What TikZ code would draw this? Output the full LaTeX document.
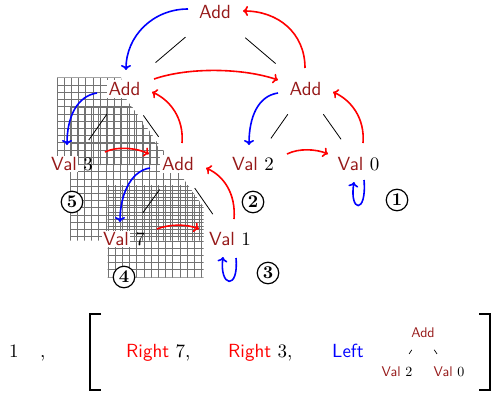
\documentclass[tikz,border=0pt]{standalone}
\usepackage{fontspec}
% the 10pt designs, scaled up, for every size
\setmainfont{lmroman10-regular.otf}[BoldFont=lmroman10-bold.otf]
\setsansfont{lmsans10-regular.otf}[BoldFont=lmsans10-bold.otf]
\usetikzlibrary{calc,arrows.meta}
\definecolor{vred}{RGB}{150,25,25}
\setlength{\fboxsep}{1.5pt}
% constructor name on a white patch, then its argument
\newcommand\valnode[1]{\kern-1.5pt\colorbox{white}{\textcolor{vred}{Val}}\kern-1.5pt\ {\rmfamily #1}}
\newcommand\valsmall[1]{\textcolor{vred}{Val}\ {\rmfamily #1}}
\tikzset{
  big/.style={font=\sffamily\fontsize{19}{22}\selectfont},
  addn/.style={big, text=vred, fill=white, inner sep=2pt},
  valn/.style={big, inner sep=0pt},
  small/.style={font=\sffamily\fontsize{14}{16}\selectfont, inner sep=0pt},
  edge/.style={line width=0.8pt},
  sedge/.style={line width=0.7pt},
  gl/.style={draw=black!55, line width=1pt},
  rarr/.style={draw=red, line width=1.6pt, -{To[length=5pt,width=10pt]}},
  barr/.style={draw=blue, line width=1.6pt, -{To[length=5pt,width=10pt]}},
  circ/.style={circle, draw, line width=1.2pt, fill=white, minimum size=21.5pt,
    inner sep=0pt, font=\rmfamily\bfseries\fontsize{18}{20}\selectfont},
  brk/.style={line width=2.5pt},
  txt/.style={big, inner sep=0pt, anchor=base west},
}
\begin{document}
\begin{tikzpicture}[x=1pt,y=-1pt]
\useasboundingbox (0,0) rectangle (494,393);

% hatched context regions
\begin{scope}
  \clip (56.5,77.5) -- (121,77.5) -- (125,97) -- (160,150) -- (166,165) -- (56.5,165) -- cycle;
  \foreach \k in {0,...,16} {
    \draw[gl] ({57+7.2*\k},78) -- ({57+7.2*\k},166);
    \draw[gl] (57,{78+7.2*\k}) -- (172,{78+7.2*\k});
  }
\end{scope}
\begin{scope}
  \clip (69.5,106.5) -- (132,106.5) -- (203.5,207) -- (203.5,240.5) -- (69.5,240.5) -- cycle;
  \foreach \k in {0,...,19} {
    \draw[gl] ({70+7.2*\k},107) -- ({70+7.2*\k},241);
    \draw[gl] (70,{107+7.2*\k}) -- (205,{107+7.2*\k});
  }
\end{scope}
\begin{scope}
  \clip (107.5,185) -- (188,185) -- (203.5,207) -- (203.5,277.5) -- (107.5,277.5) -- cycle;
  \foreach \k in {0,...,14} {
    \draw[gl] ({108+7.2*\k},180) -- ({108+7.2*\k},278);
    \draw[gl] (107,{277-7.2*\k}) -- (205,{277-7.2*\k});
  }
\end{scope}

% tree nodes
\node[addn] (T)  at (215,12)   {Add};
\node[addn] (LA) at (124.5,89) {Add};
\node[addn] (RA) at (305.5,89) {Add};
\node[addn] (MA) at (178,164)  {Add};
\node[valn] (V3) at (72,164)   {\valnode{3}};
\node[valn] (V2) at (253,164)  {\valnode{2}};
\node[valn] (V0) at (358.5,164){\valnode{0}};
\node[valn] (V7) at (124,239)  {\valnode{7}};
\node[valn] (V1) at (230,239)  {\valnode{1}};

% tree edges
\draw[edge, shorten <=25pt, shorten >=27pt] (T) -- (LA);
\draw[edge, shorten <=26pt, shorten >=25.5pt] (T) -- (RA);
\draw[edge, shorten <=20pt, shorten >=19pt] (LA) -- (V3);
\draw[edge, shorten <=21.5pt, shorten >=22.4pt] (LA) -- (MA);
\draw[edge, shorten <=20.5pt, shorten >=22pt] (MA) -- (V7);
\draw[edge, shorten <=18.5pt, shorten >=20pt] (MA) -- (V1);
\draw[edge, shorten <=20pt, shorten >=21pt] (RA) -- (V2);
\draw[edge, shorten <=20pt, shorten >=20pt] (RA) -- (V0);

% step markers
\node[circ] (c1) at (397,200) {1};
\node[circ] (c2) at (253,202) {2};
\node[circ] (c3) at (268,273) {3};
\node[circ] (c4) at (124,277) {4};
\node[circ] (c5) at (72,202)  {5};

% moves to the left child
\draw[barr] ($(T)+(-27,-3)$) .. controls +(-35,0) and +(0,-34) .. ($(LA)+(1.5,-19)$);
\draw[barr] ($(LA)+(-27.5,4)$) .. controls +(-20,3) and +(0,-28) .. ($(V3)+(-5,-19)$);
\draw[barr] ($(MA)+(-28,4)$) .. controls +(-20,3) and +(0,-26) .. ($(V7)+(-4,-17)$);
\draw[barr] ($(RA)+(-27.5,4)$) .. controls +(-20,3) and +(0,-28) .. ($(V2)+(-4,-19)$);
\draw[barr] ($(V0)+(5.5,16)$) .. controls +(3,35) and +(-5,30) .. ($(V0)+(-4.5,18)$);
\draw[barr] ($(V1)+(6,19)$) .. controls +(3,33) and +(-4,30) .. ($(V1)+(-7,18)$);

% moves up and to the right sibling
\draw[rarr] ($(RA)+(-0.5,-21)$) .. controls +(0,-35) and +(35,0) .. ($(T)+(28,-1)$);
\draw[rarr] ($(LA)+(29.5,-10)$) .. controls +(35,-12) and +(-35,-12) .. ($(RA)+(-27.5,-9)$);
\draw[rarr] ($(MA)+(4,-21)$) .. controls +(2,-25) and +(18,8) .. ($(LA)+(27.5,3)$);
\draw[rarr] ($(V3)+(33,-12)$) .. controls +(12,-6) and +(-12,-6) .. ($(MA)+(-29,-10)$);
\draw[rarr] ($(V2)+(34,-10)$) .. controls +(12,-6) and +(-12,-5) .. ($(V0)+(-30.5,-10)$);
\draw[rarr] ($(V0)+(4.5,-21)$) .. controls +(2,-25) and +(18,8) .. ($(RA)+(27.5,3)$);
\draw[rarr] ($(V1)+(4,-20)$) .. controls +(2,-25) and +(18,8) .. ($(MA)+(28,4)$);
\draw[rarr] ($(V7)+(33,-10)$) .. controls +(12,-5) and +(-12,-5) .. ($(V1)+(-31,-10)$);

% the zipper value written out
\node[txt] (one) at (9,357.5) {\rmfamily 1};
\node[txt] (comma) at (40,357.5) {\rmfamily ,};
\draw[brk] (101,314) -- (90,314) -- (90,390) -- (101,390);
\draw[brk] (479,314) -- (490,314) -- (490,390) -- (479,390);
\node[txt] (r7) at (126,357.5) {\textcolor{red}{Right} {\rmfamily 7,}};
\node[txt] (r3) at (228,357.5) {\textcolor{red}{Right} {\rmfamily 3,}};
\node[txt] (lf) at (332,357.5) {\textcolor{blue}{Left}};
\node[small, text=vred] (sA) at (423,333) {Add};
\node[small] (sV2) at (397,372) {\valsmall{2}};
\node[small] (sV0) at (449,372) {\valsmall{0}};
\draw[sedge, shorten <=19pt, shorten >=20.4pt] (sA) -- (sV2);
\draw[sedge, shorten <=19pt, shorten >=20.4pt] (sA) -- (sV0);
\end{tikzpicture}
\end{document}
